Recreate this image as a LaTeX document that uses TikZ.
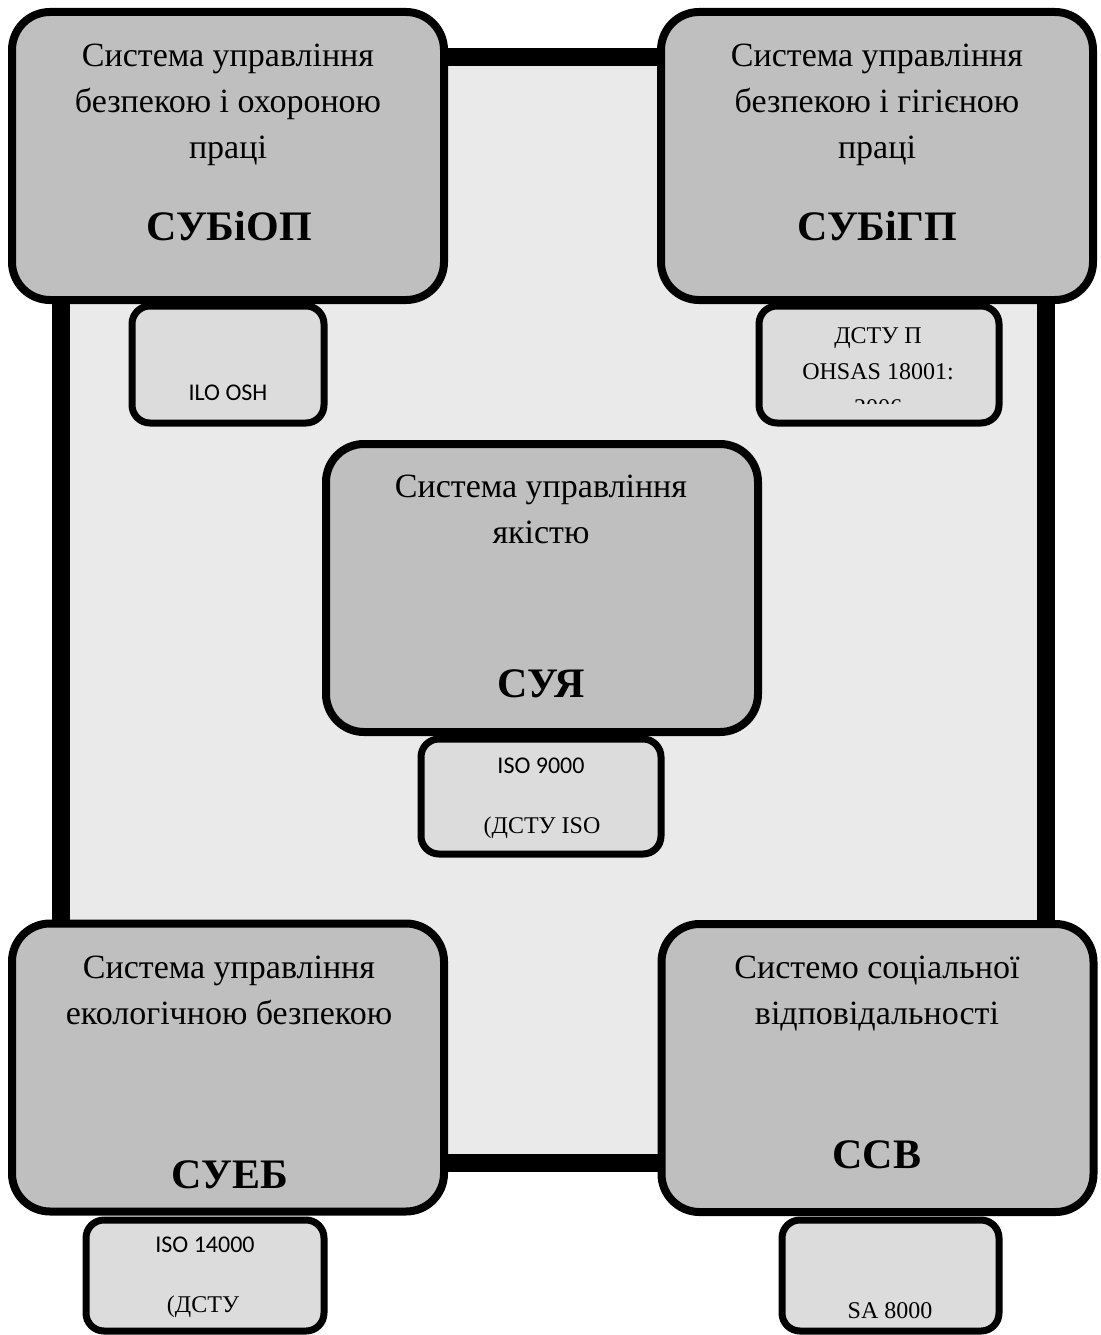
\documentclass[tikz,border=0pt]{standalone}
\usepackage{fontspec}
\setmainfont{Liberation Serif}
\setsansfont{Carlito}
\usepackage{tikz}
\definecolor{sysgray}{RGB}{191,191,191}
\definecolor{stdgray}{RGB}{220,220,220}
\definecolor{fieldgray}{RGB}{234,234,234}

\begin{document}
\begin{tikzpicture}[x=1pt,y=-1pt]

%
% Styles
%
\tikzstyle{field}    = [rectangle,draw=black,fill=fieldgray,line width=18pt,minimum width=985pt,minimum height=1106pt,inner sep=0pt]
\tikzstyle{system}   = [rectangle,rounded corners=38pt,draw=black,fill=sysgray,line width=8pt,minimum width=432pt,minimum height=288pt,inner sep=0pt]
\tikzstyle{standard} = [rectangle,rounded corners=18pt,draw=black,fill=stdgray,line width=7pt,inner sep=0pt]
\tikzstyle{title}    = [anchor=north,align=center,inner sep=0pt,font=\fontsize{34}{46}\selectfont]
\tikzstyle{abbr}     = [anchor=base,inner sep=0pt,font=\fontsize{42}{50}\selectfont\bfseries]
\tikzstyle{stdsans}  = [anchor=base,inner sep=0pt,font=\sffamily\fontsize{24}{30}\selectfont]
\tikzstyle{stdserif} = [anchor=base,inner sep=0pt,font=\fontsize{24}{36}\selectfont]

\useasboundingbox (0,0) rectangle (1100,1335);

% common field
\node[field] (field) at (553.5,610) {};

% management systems
\node[system] (sbiop) at (228,156)    {};
\node[system] (sbigp) at (877,156)    {};
\node[system] (suya)  at (542,588)    {};
\node[system] (sueb)  at (228,1067.5) {};
\node[system] (ssv)   at (877.5,1068) {};

% standards
\node[standard,minimum width=192pt,minimum height=117pt] (ilo)      at (228,364.5)   {};
\node[standard,minimum width=240pt,minimum height=117pt] (ohsas)    at (879,364.5)   {};
\node[standard,minimum width=240pt,minimum height=115pt] (iso9000)  at (541,796.5)   {};
\node[standard,minimum width=238pt,minimum height=111pt] (iso14000) at (205,1275.5)  {};
\node[standard,minimum width=217pt,minimum height=111pt] (sa8000)   at (890.5,1275.5) {};

% system names
\node[title] (sbiop-t) at (228,34)  {\strut Система управління\\безпекою і охороною\\праці};
\node[abbr]  (sbiop-a) at (229,240) {СУБіОП};
\node[title] (sbigp-t) at (877,34)  {\strut Система управління\\безпекою і гігієною\\праці};
\node[abbr]  (sbigp-a) at (877,240) {СУБіГП};
\node[title] (suya-t)  at (541,465) {\strut Система управління\\якістю};
\node[abbr]  (suya-a)  at (541,697) {СУЯ};
\node[title] (sueb-t)  at (229,946) {\strut Система управління\\екологічною безпекою};
\node[abbr]  (sueb-a)  at (230,1188) {СУЕБ};
\node[title] (ssv-t)   at (877,946) {\strut Системо соціальної\\відповідальності};
\node[abbr]  (ssv-a)   at (877,1168) {ССВ};

% standard names
\node[stdsans]  (ilo-t)    at (228,400)  {ILO OSH};
\begin{scope}
  \clip (759,306) rectangle (999,403);
  \node[stdserif,anchor=north,align=center] (ohsas-t) at (878,318) {\strut ДСТУ П\\OHSAS 18001:\\2006};
\end{scope}
\node[stdsans]  (iso9000-t)  at (541,773)  {ISO 9000};
\node[stdserif] (iso9000-d)  at (542,833)  {(ДСТУ ISO};
\node[stdsans]  (iso14000-t) at (205,1252) {ISO 14000};
\node[stdserif] (iso14000-d) at (203,1312) {(ДСТУ};
\node[stdserif] (sa8000-t)   at (890,1318) {SA 8000};

\end{tikzpicture}
\end{document}
